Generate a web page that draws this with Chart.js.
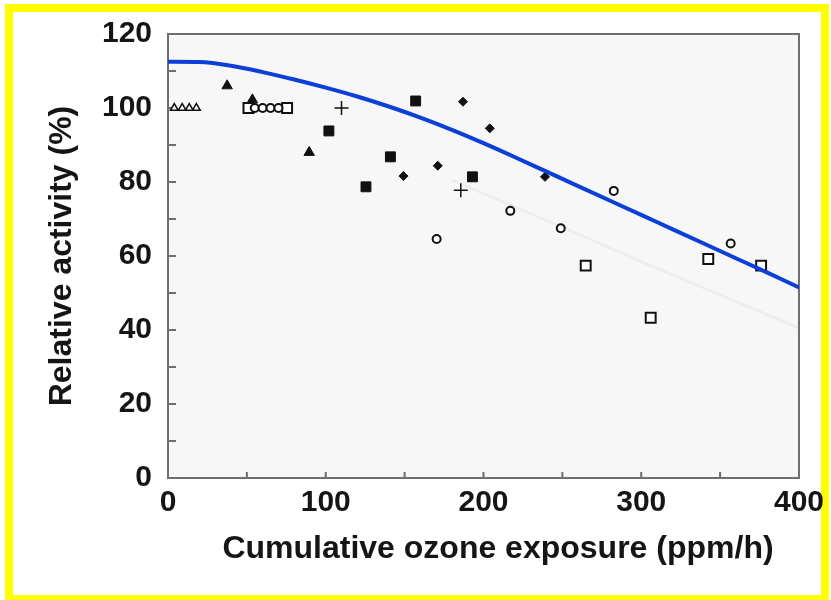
<!DOCTYPE html>
<html>
<head>
<meta charset="utf-8">
<script src="https://cdn.jsdelivr.net/npm/chart.js@4/dist/chart.umd.min.js"></script>
<style>
  html, body { margin: 0; padding: 0; background: #fff; }
  #wrap { position: relative; width: 831px; height: 600px; overflow: hidden; }
  #frame { position: absolute; left: 5px; top: 4px; width: 808px; height: 583px; border: 8px solid #ffff00; }
  #chart { position: absolute; left: 0; top: 0; }
</style>
</head>
<body>
<div id="wrap">
  <div id="frame"></div>
  <canvas id="chart" width="831" height="600"></canvas>
</div>
<script>
const xTicks = [0, 100, 200, 300, 400];
const yTicks = [0, 20, 40, 60, 80, 100, 120];
const xTitle = "Cumulative ozone exposure (ppm/h)";
const yTitle = "Relative activity (%)";

// measured points, one small list per marker type
const openTriX = [4, 9, 13.5, 18];
const openTriY = [100, 100, 100, 100];
const fillTriX = [37.5, 53.5, 89.5];
const fillTriY = [106, 102.2, 88];
const openCircX = [55, 60, 65, 70, 170.3, 217, 249, 282.6, 356.7];
const openCircY = [100, 100, 100, 100, 64.6, 72.2, 67.5, 77.6, 63.4];
const openSqX = [51, 75.5, 264.8, 306, 342.5, 376];
const openSqY = [100, 100, 57.4, 43.3, 59.2, 57.4];
const fillSqX = [102, 125.5, 141, 157, 193];
const fillSqY = [93.8, 78.7, 86.8, 101.9, 81.4];
const diamondX = [149.3, 171, 187, 204, 239];
const diamondY = [81.6, 84.4, 101.7, 94.5, 81.4];
const plusX = [110, 185.6];
const plusY = [100, 77.8];

// fitted curve (blue) and the faint grey trace
const curveX = [0, 20, 40, 60, 80, 100, 120, 140, 160, 180, 200, 220, 240, 260, 280, 300, 320, 340, 360, 380, 400];
const curveY = [112.5, 112.4, 111.4, 109.7, 107.7, 105.5, 103.1, 100.4, 97.4, 94.1, 90.5, 86.7, 82.8, 78.9, 75.0, 71.1, 67.2, 63.3, 59.4, 55.5, 51.5];
const traceX = [180, 250, 300, 350, 400];
const traceY = [80.5, 67.8, 58.5, 49.5, 40.5];

const pts = (xs, ys) => xs.map((x, i) => ({ x: x, y: ys[i] }));

const markers = function (label, xs, ys, style, radius, filled, width) {
  return {
    label: label,
    data: pts(xs, ys),
    pointStyle: style,
    pointRadius: radius,
    pointHoverRadius: radius,
    pointBorderWidth: width,
    pointBorderColor: "#111",
    pointBackgroundColor: filled ? "#111" : "#ffffff",
    showLine: false,
  };
};

const framePlugin = {
  id: "frame",
  beforeDatasetsDraw(chart) {
    const { ctx, chartArea: a, scales } = chart;
    ctx.save();
    ctx.fillStyle = "#f7f7f7";
    ctx.fillRect(a.left, a.top, a.right - a.left, a.bottom - a.top);
    ctx.strokeStyle = "#6e6e6e";
    ctx.lineWidth = 2;
    ctx.strokeRect(a.left, a.top, a.right - a.left, a.bottom - a.top);
    ctx.beginPath();
    for (let v = 0; v <= 120; v += 10) {
      const y = scales.y.getPixelForValue(v);
      ctx.moveTo(a.left, y);
      ctx.lineTo(a.left + 8, y);
    }
    for (let v = 50; v < 400; v += 50) {
      const x = scales.x.getPixelForValue(v);
      ctx.moveTo(x, a.bottom);
      ctx.lineTo(x, a.bottom - 6);
    }
    ctx.stroke();
    ctx.restore();
  },
  afterDraw(chart) {
    const ctx = chart.ctx;
    ctx.save();
    ctx.fillStyle = "#151515";
    ctx.font = "bold 32px 'Liberation Sans', Arial, sans-serif";
    ctx.textAlign = "center";
    ctx.textBaseline = "middle";
    ctx.fillText(xTitle, 498, 549);
    ctx.restore();
  },
};

const init = function () {
  const canvas = document.getElementById("chart");
  new Chart(canvas, {
    type: "scatter",
    data: {
      datasets: [
        {
          label: "trace",
          data: pts(traceX, traceY),
          showLine: true,
          borderColor: "rgba(0,0,0,0.035)",
          borderWidth: 3,
          pointRadius: 0,
          cubicInterpolationMode: "monotone",
        },
        {
          label: "fit",
          data: pts(curveX, curveY),
          showLine: true,
          borderColor: "#0b3fd6",
          borderWidth: 4,
          pointRadius: 0,
          cubicInterpolationMode: "monotone",
        },
        markers("open triangle", openTriX, openTriY, "triangle", 4.5, false, 1.5),
        markers("filled triangle", fillTriX, fillTriY, "triangle", 6, true, 1),
        markers("open circle", openCircX, openCircY, "circle", 4, false, 2),
        markers("open square", openSqX, openSqY, "rect", 7, false, 2),
        markers("filled square", fillSqX, fillSqY, "rect", 7, true, 1),
        markers("diamond", diamondX, diamondY, "rectRot", 4.5, true, 1),
        markers("plus", plusX, plusY, "cross", 7, false, 1.5),
      ],
    },
    options: {
      responsive: false,
      animation: false,
      layout: { padding: { top: 34, right: 29, left: 0, bottom: 0 } },
      plugins: { legend: { display: false }, tooltip: { enabled: false } },
      scales: {
        x: {
          type: "linear",
          min: 0,
          max: 400,
          afterBuildTicks: (s) => { s.ticks = xTicks.map((v) => ({ value: v })); },
          afterFit: (s) => { s.height = 122; },
          grid: { display: false, drawTicks: false },
          border: { display: false },
          ticks: {
            padding: 7,
            color: "#151515",
            font: { family: "'Liberation Sans', Arial, sans-serif", size: 30, weight: "bold" },
          },
        },
        y: {
          type: "linear",
          min: 0,
          max: 120,
          afterBuildTicks: (s) => { s.ticks = yTicks.map((v) => ({ value: v })); },
          afterFit: (s) => { s.width = 168; },
          grid: { display: false, drawTicks: false },
          border: { display: false },
          ticks: {
            padding: 16,
            color: "#151515",
            font: { family: "'Liberation Sans', Arial, sans-serif", size: 30, weight: "bold" },
          },
          title: {
            display: true,
            text: yTitle,
            color: "#151515",
            padding: { top: 43, bottom: 0 },
            font: { family: "'Liberation Sans', Arial, sans-serif", size: 32, weight: "bold" },
          },
        },
      },
    },
    plugins: [framePlugin],
  });
};

window.onload = init;
</script>
</body>
</html>
